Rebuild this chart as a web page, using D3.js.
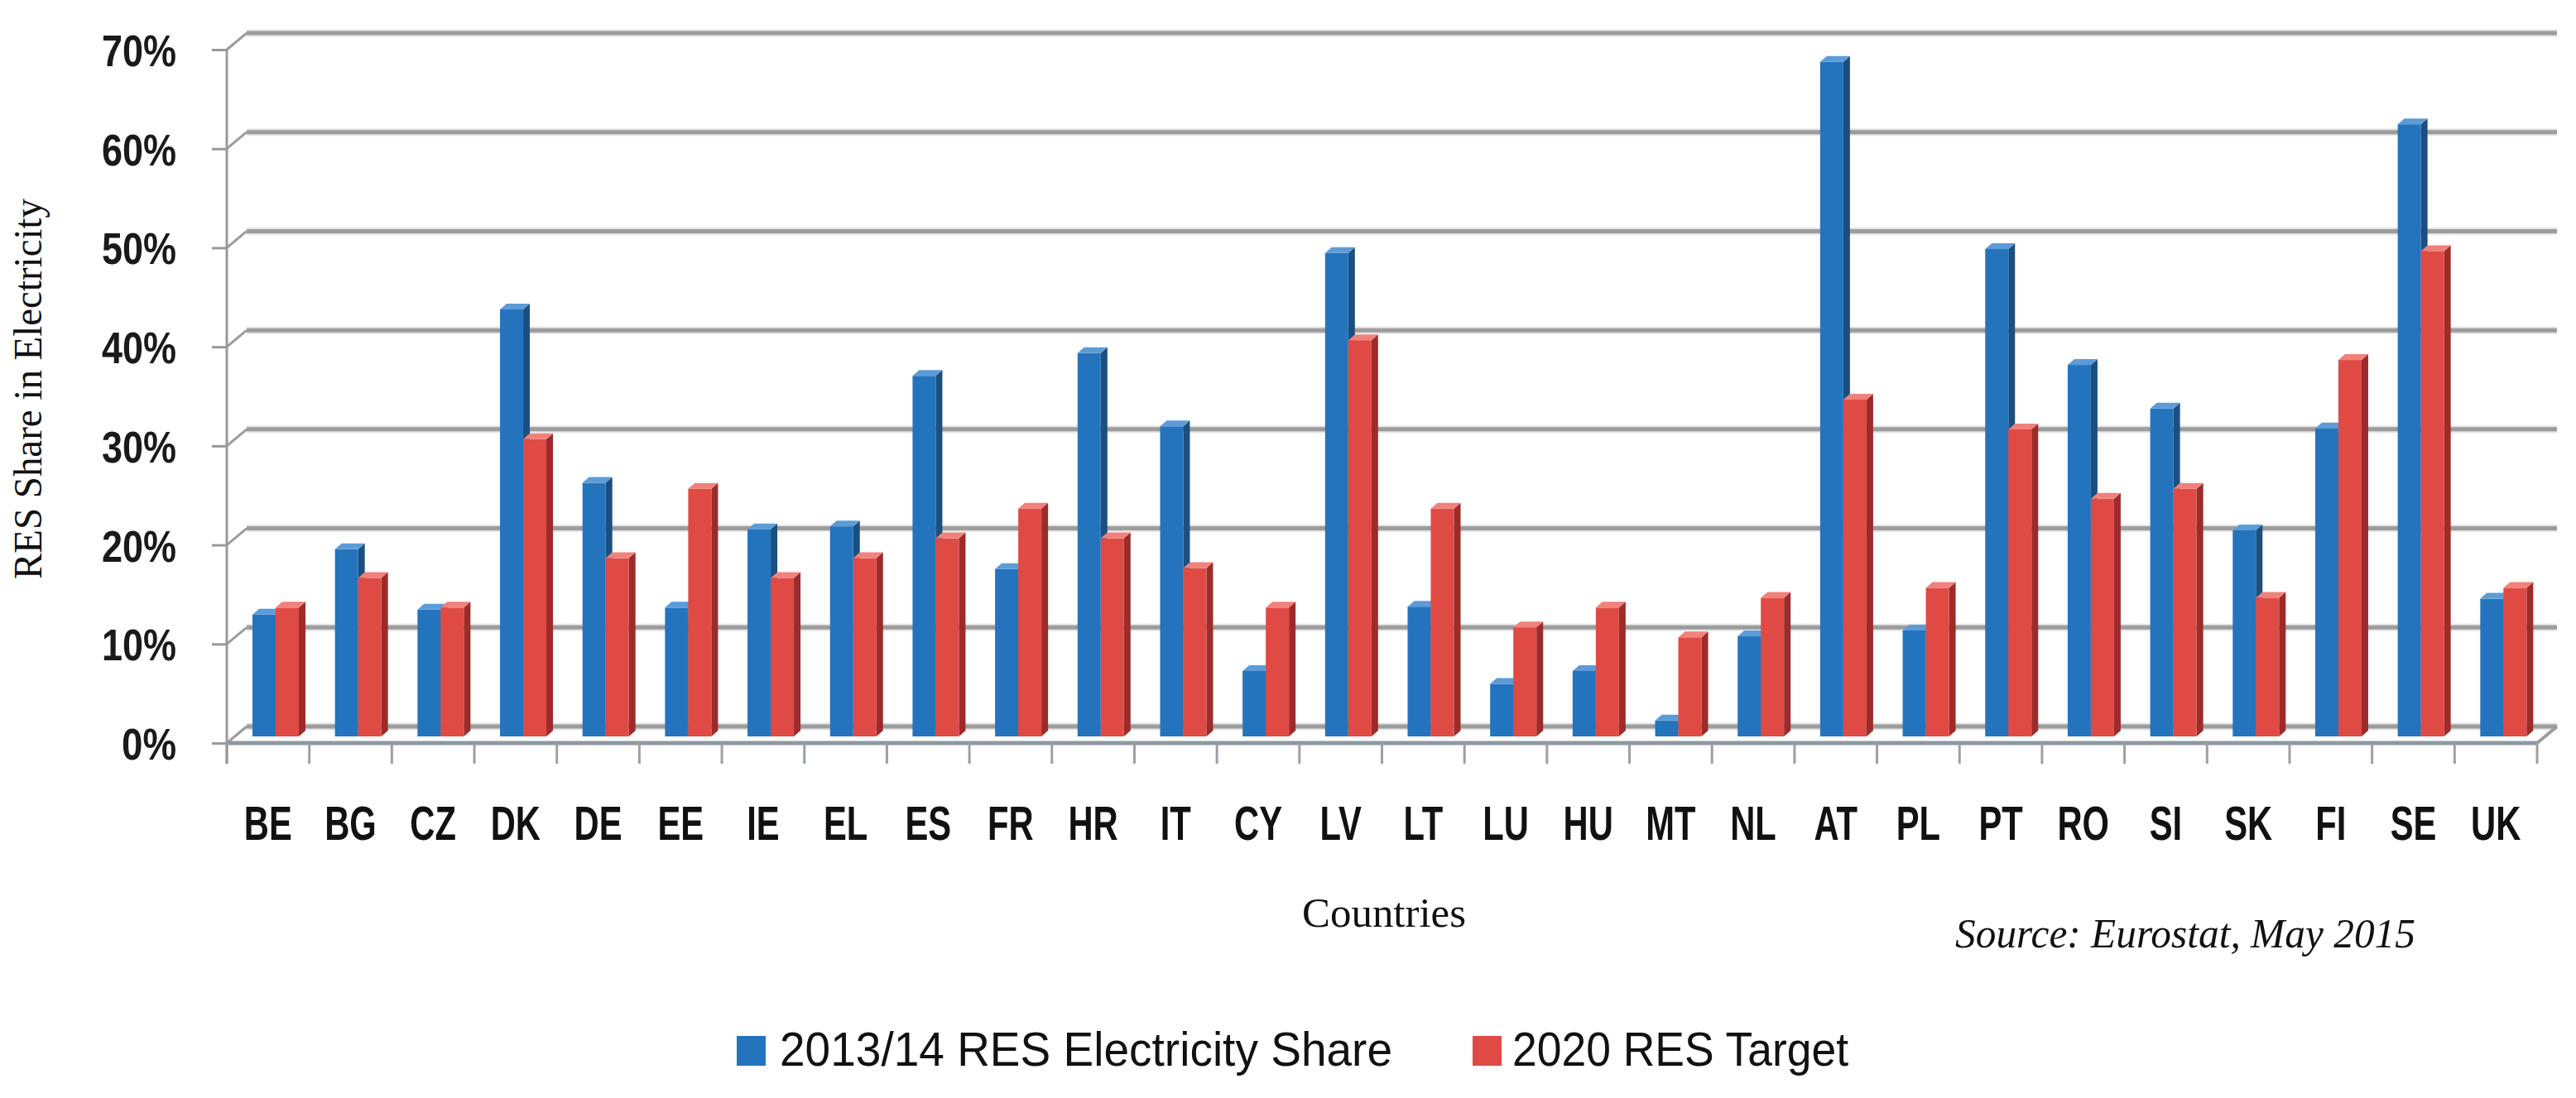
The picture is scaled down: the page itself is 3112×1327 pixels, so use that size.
<!DOCTYPE html>
<html>
<head>
<meta charset="utf-8">
<script src="https://cdn.jsdelivr.net/npm/d3@7"></script>
<style>
  html, body { margin: 0; padding: 0; background: #ffffff; }
  svg { display: block; }
</style>
</head>
<body>
<svg id="chart" width="3112" height="1327"></svg>
<script>
// ---------------- data ----------------
const categories = ["BE","BG","CZ","DK","DE","EE","IE","EL","ES","FR","HR","IT","CY","LV","LT","LU","HU","MT","NL","AT","PL","PT","RO","SI","SK","FI","SE","UK"];
const shareValues = [12.3,18.9,12.8,43.1,25.6,13.0,20.9,21.2,36.4,16.9,38.7,31.3,6.6,48.8,13.1,5.3,6.6,1.6,10.1,68.1,10.7,49.2,37.5,33.1,20.8,31.1,61.8,13.9];
const targetValues = [13,16,13,30,18,25,16,18,20,23,20,17,13,40,23,11,13,10,14,34,15,31,24,25,14,38,49,15];
const yTicks = [0,10,20,30,40,50,60,70];
const seriesNames = ["2013/14 RES Electricity Share", "2020 RES Target"];
const yTitle = "RES Share in Electricity";
const xTitle = "Countries";
const sourceText = "Source: Eurostat, May 2015";

// ---------------- layout ----------------
const svg = d3.select("#chart");
const X0 = 274, X1 = 3065;          // front plane horizontal extent
const DX = 24, DY = -20;            // depth offset (front -> back wall)
const yFront = d3.scaleLinear().domain([0,70]).range([898, 60]);
const yBack  = d3.scaleLinear().domain([0,70]).range([878, 40]);
const yBar   = d3.scaleLinear().domain([0,70]).range([890, 52]);
const x = d3.scaleBand().domain(categories).range([X0, X1]).paddingInner(0).paddingOuter(0);

const colors = {
  blue:  { front: "#2474bd", side: "#1b4f80", top: "#5b9bd8" },
  red:   { front: "#df4a45", side: "#9c2b29", top: "#f0817b" }
};
const gridColor = "#9c9c9c";

// ---------------- back wall gridlines ----------------
const grid = svg.append("g");
grid.selectAll("line.grid").data(yTicks).join("line")
  .attr("x1", X0 + DX).attr("x2", X1 + DX)
  .attr("y1", d => yBack(d)).attr("y2", d => yBack(d))
  .attr("stroke", "#e4e4e4").attr("stroke-width", 9);
grid.selectAll("line.grid2").data(yTicks).join("line")
  .attr("x1", X0 + DX).attr("x2", X1 + DX)
  .attr("y1", d => yBack(d)).attr("y2", d => yBack(d))
  .attr("stroke", gridColor).attr("stroke-width", 5);
// diagonal connectors on the left wall
grid.selectAll("line.diag").data(yTicks).join("line")
  .attr("x1", X0).attr("y1", d => yFront(d))
  .attr("x2", X0 + DX).attr("y2", d => yBack(d))
  .attr("stroke", gridColor).attr("stroke-width", 3);

// ---------------- bars (pseudo 3D) ----------------
const BW = 28, SD = 8, SH = 7;
function drawBar(g, x0, v, c) {
  const top = yBar(v), base = yBar(0);
  // side face
  g.append("path")
    .attr("d", `M${x0+BW},${top} L${x0+BW+SD},${top-SH} L${x0+BW+SD},${base-SH} L${x0+BW},${base} Z`)
    .attr("fill", c.side);
  // front face
  g.append("rect").attr("x", x0).attr("y", top).attr("width", BW).attr("height", base - top)
    .attr("fill", c.front);
  // top face
  g.append("path")
    .attr("d", `M${x0},${top} L${x0+BW},${top} L${x0+BW+SD},${top-SH} L${x0+SD},${top-SH} Z`)
    .attr("fill", c.top);
}
const barsG = svg.append("g");
categories.forEach((cat, i) => {
  const bx = x(cat);
  const g = barsG.append("g");
  drawBar(g, bx + 31, shareValues[i], colors.blue);
  drawBar(g, bx + 59, targetValues[i], colors.red);
});

// ---------------- floor front edge & axis ----------------
const axisG = svg.append("g");
axisG.append("line").attr("x1", X0).attr("x2", X1).attr("y1", yFront(0)).attr("y2", yFront(0))
  .attr("stroke", "#8e98a2").attr("stroke-width", 5);
axisG.append("line").attr("x1", X1).attr("y1", yFront(0)).attr("x2", X1 + DX).attr("y2", yBack(0))
  .attr("stroke", gridColor).attr("stroke-width", 4);
// category ticks
const xTickPos = categories.map(c => x(c)).concat([X1]);
axisG.selectAll("line.xt").data(xTickPos).join("line")
  .attr("x1", d => d).attr("x2", d => d)
  .attr("y1", yFront(0)).attr("y2", yFront(0) + 25)
  .attr("stroke", "#9aa0a6").attr("stroke-width", 3);

// y axis using d3 axis on the front plane
const yAxis = d3.axisLeft(yFront).tickValues(yTicks).tickSize(18).tickPadding(40)
  .tickFormat(d => d + "%");
const yAxisG = svg.append("g").attr("transform", `translate(${X0},0)`).call(yAxis);
yAxisG.select(".domain").attr("stroke", "#999").attr("stroke-width", 3)
  .attr("d", `M0,${yFront(70)}V${yFront(0) + 25}`);
yAxisG.selectAll(".tick line").attr("stroke", "#999").attr("stroke-width", 3);
yAxisG.selectAll(".tick text")
  .attr("x", -61).attr("dy", "0.36em")
  .attr("font-family", "Liberation Sans, Arial, sans-serif")
  .attr("font-weight", "bold").attr("font-size", 54).attr("fill", "#1a1a1a")
  .attr("textLength", d => d === 0 ? 66 : 90).attr("lengthAdjust", "spacingAndGlyphs");

// category labels
svg.append("g").selectAll("text.cat").data(categories).join("text")
  .attr("transform", d => `translate(${x(d) + x.bandwidth()/2},1015) scale(0.72,1)`)
  .attr("text-anchor", "middle")
  .attr("font-family", "Liberation Sans, Arial, sans-serif")
  .attr("font-weight", "bold").attr("font-size", 58).attr("fill", "#111")
  .text(d => d);

// axis titles
svg.append("text")
  .attr("transform", "translate(50,470) rotate(-90)")
  .attr("text-anchor", "middle")
  .attr("font-family", "Liberation Serif, Times New Roman, serif")
  .attr("font-size", 48).attr("fill", "#111")
  .attr("textLength", 460).attr("lengthAdjust", "spacingAndGlyphs")
  .text(yTitle);

svg.append("text")
  .attr("x", 1672).attr("y", 1120).attr("text-anchor", "middle")
  .attr("font-family", "Liberation Serif, Times New Roman, serif")
  .attr("font-size", 50).attr("fill", "#111")
  .attr("textLength", 198).attr("lengthAdjust", "spacingAndGlyphs")
  .text(xTitle);

svg.append("text")
  .attr("x", 2362).attr("y", 1145)
  .attr("font-family", "Liberation Serif, Times New Roman, serif")
  .attr("font-style", "italic")
  .attr("font-size", 50).attr("fill", "#111")
  .attr("textLength", 556).attr("lengthAdjust", "spacingAndGlyphs")
  .text(sourceText);

// legend
const legendItems = [
  { name: seriesNames[0], color: colors.blue.front, sx: 890, tx: 942, tw: 740 },
  { name: seriesNames[1], color: colors.red.front,  sx: 1779, tx: 1827, tw: 406 }
];
const lg = svg.append("g");
lg.selectAll("rect").data(legendItems).join("rect")
  .attr("x", d => d.sx).attr("y", 1252).attr("width", 35).attr("height", 36)
  .attr("fill", d => d.color);
lg.selectAll("text").data(legendItems).join("text")
  .attr("x", d => d.tx).attr("y", 1288)
  .attr("font-family", "Liberation Sans, Arial, sans-serif")
  .attr("font-size", 57).attr("fill", "#111")
  .attr("textLength", d => d.tw).attr("lengthAdjust", "spacingAndGlyphs")
  .text(d => d.name);
</script>
</body>
</html>
